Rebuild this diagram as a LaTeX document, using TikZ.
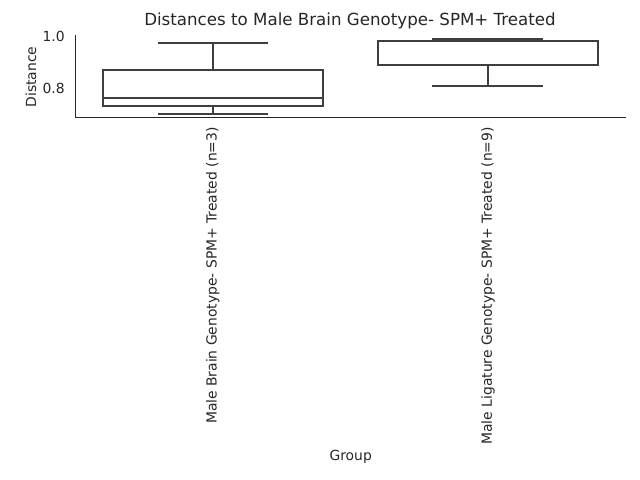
\documentclass[tikz,border=0pt]{standalone}
\usepackage{fontspec}
\setmainfont{DejaVu Sans}
\definecolor{boxc}{HTML}{3F3F3F}
\definecolor{txtc}{HTML}{262626}
\begin{document}
\begin{tikzpicture}[x=0.72pt,y=-0.72pt,
  spine/.style={draw=txtc,line width=0.8pt},
  boxline/.style={draw=boxc,line width=1.45pt},
  lbl/.style={text=txtc,font=\fontsize{10}{12}\selectfont,inner sep=0pt}]
\useasboundingbox[fill=white] (0,0) rectangle (640,480);
% axes
\coordinate (o) at (75.3,117.7);
\coordinate (ytop) at (75.3,35);
\coordinate (xend) at (625.7,117.7);
\draw[spine] (ytop) -- (o) -- (xend);
% y tick labels
\node[lbl,anchor=east] (t10) at (65,36.7) {1.0};
\node[lbl,anchor=east] (t08) at (65,88.3) {0.8};
\node[lbl,rotate=90] (ylab) at (31,77) {Distance};
% title
\node[lbl,font=\fontsize{12}{14}\selectfont] (title) at (350,21) {Distances to Male Brain Genotype- SPM+ Treated};
% box 1
\draw[boxline] (212.7,70) -- (212.7,42.7);
\draw[boxline] (212.7,105.7) -- (212.7,113.7);
\draw[boxline] (157.7,42.7) -- (268.3,42.7);
\draw[boxline] (157.7,113.7) -- (268.3,113.7);
\draw[boxline] (102.7,70) rectangle (323,105.7);
\draw[boxline] (102.7,97.7) -- (323,97.7);
% box 2
\draw[boxline] (432.3,39.3) -- (543.3,39.3);
\draw[boxline] (488,65.3) -- (488,85.7);
\draw[boxline] (432.3,85.7) -- (543.3,85.7);
\draw[boxline] (377.7,40.7) rectangle (598.3,65.3);
\draw[boxline] (377.7,40.7) -- (598.3,40.7);
% x tick labels
\node[lbl,rotate=90,anchor=east] (x1) at (212.7,127) {Male Brain Genotype- SPM+ Treated (n=3)};
\node[lbl,rotate=90,anchor=east] (x2) at (488,127) {Male Ligature Genotype- SPM+ Treated (n=9)};
\node[lbl] (xlab) at (350.7,457) {Group};
\end{tikzpicture}
\end{document}
